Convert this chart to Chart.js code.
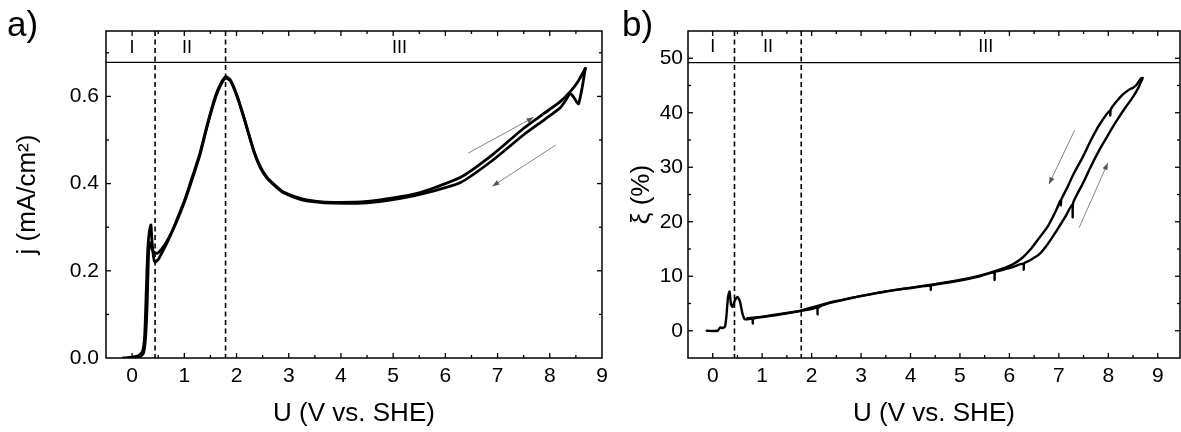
<!DOCTYPE html>
<html><head><meta charset="utf-8">
<script src="https://cdn.jsdelivr.net/npm/chart.js@4.4.0/dist/chart.umd.min.js"></script>
<style>
html,body{margin:0;padding:0;background:#fff;width:1181px;height:432px;overflow:hidden;}
#wa{position:absolute;left:0;top:0;width:620px;height:432px;}
#wb{position:absolute;left:620px;top:0;width:561px;height:432px;}
.panel{position:absolute;font-family:"Liberation Sans",Arial,sans-serif;font-size:35px;line-height:34px;color:#000;}
</style></head>
<body>
<div id="wa"><canvas id="ca"></canvas></div>
<div id="wb"><canvas id="cb"></canvas></div>
<div class="panel" style="left:7px;top:7px">a)</div>
<div class="panel" style="left:622px;top:7px">b)</div>
<script>
// ---------- DATA ----------
const uTickValues = [0,1,2,3,4,5,6,7,8,9];
const jTickValues = [0,0.2,0.4,0.6];
const xiTickValues = [0,10,20,30,40,50];
const regionLabels = ['I','II','III'];
const regionBounds = [0.44, 1.79];
const regionLabelUA = [0.0, 1.05, 5.12];
const regionLabelUB = [0.0, 1.12, 5.52];

// panel a: current density, forward (anodic) scan
const uFwdA = [-0.17,0.0,0.12,0.2,0.24,0.27,0.3,0.33,0.36,0.38,0.41,0.44,0.5,0.6,0.7,0.85,1.0,1.15,1.3,1.45,1.6,1.7,1.79,1.88,2.0,2.14,2.33,2.45,2.58,2.75,2.9,3.22,3.5,3.86,4.5,5.14,5.5,5.8,6.3,6.9,7.5,7.9,8.2,8.4,8.55,8.68];
const jFwdA = [0,0.002,0.005,0.015,0.05,0.15,0.25,0.29,0.305,0.27,0.232,0.22,0.226,0.248,0.272,0.315,0.36,0.414,0.47,0.54,0.602,0.63,0.645,0.638,0.605,0.553,0.476,0.44,0.415,0.395,0.381,0.366,0.36,0.357,0.359,0.37,0.379,0.391,0.415,0.466,0.527,0.562,0.588,0.612,0.636,0.664];
// panel a: backward scan
const uBwdA = [8.68,8.62,8.55,8.5,8.46,8.39,8.33,8.2,7.9,7.5,6.9,6.3,5.8,5.14,4.5,3.86,3.5,3.22,2.9,2.75,2.58,2.45,2.33,2.14,2.0,1.88,1.79,1.7,1.6,1.45,1.3,1.15,1.0,0.85,0.7,0.58,0.48,0.4,0.35,0.33,0.31,0.29,0.26,0.22,0.15,0.05];
const jBwdA = [0.664,0.62,0.583,0.59,0.598,0.607,0.596,0.574,0.547,0.512,0.453,0.403,0.384,0.366,0.356,0.355,0.358,0.364,0.379,0.393,0.413,0.438,0.474,0.551,0.603,0.636,0.642,0.627,0.598,0.537,0.466,0.41,0.357,0.312,0.275,0.252,0.24,0.245,0.262,0.265,0.22,0.13,0.05,0.012,0.003,0.001];

// panel b: xi, forward scan
const uFwdB = [-0.12,0.1,0.15,0.2,0.25,0.28,0.31,0.34,0.37,0.4,0.45,0.5,0.55,0.6,0.65,0.8,0.81,0.82,1.0,1.3,1.5,1.76,2.0,2.11,2.12,2.13,2.37,2.71,3.0,3.38,3.7,4.05,4.4,4.41,4.42,4.73,5.05,5.4,5.69,5.7,5.71,5.8,6.07,6.28,6.29,6.3,6.41,6.6,6.75,6.9,7.02,7.15,7.27,7.28,7.29,7.49,7.65,7.82,8.0,8.16,8.35,8.5,8.62,8.67];
const xiFwdB = [0,0,0.6,0.5,0.8,3.0,6.2,7.2,4.8,4.4,5.6,6.2,5.4,3.2,2.1,2.2,1.3,2.2,2.5,2.9,3.2,3.6,4.0,4.2,3.0,4.2,5.1,5.8,6.4,7.0,7.5,7.9,8.3,7.5,8.3,8.8,9.3,10.0,10.7,9.3,10.8,11.0,11.7,12.3,11.2,12.4,12.9,14.0,15.6,17.6,19.3,21.2,23.2,20.8,23.5,27.1,30.2,33.2,36.0,38.4,41.0,42.9,44.8,45.9];
// panel b: backward scan
const uBwdB = [8.67,8.7,8.65,8.57,8.5,8.45,8.4,8.3,8.16,8.05,8.04,8.03,7.82,7.65,7.49,7.3,7.15,7.05,7.04,7.03,6.95,6.78,6.6,6.45,6.25,6.07,5.8,5.4,5.05,4.73,4.05,3.38,2.71,2.37,1.76,1.3,1.0,0.7];
const xiBwdB = [45.9,46.4,46.2,45.1,44.6,44.4,44.1,43.4,42.0,40.6,39.5,40.4,37.8,35.0,32.0,28.8,25.9,24.1,23.0,23.9,22.2,19.2,17.0,15.2,13.3,12.2,11.2,10.1,9.4,8.9,7.95,7.05,5.85,5.2,3.65,3.0,2.6,2.3];

// scan-direction arrows [u0, v0, u1, v1]
const arrowsA = [[6.44,0.47,7.69,0.552],[8.11,0.488,6.90,0.394]];
const arrowsB = [[7.32,36.8,6.80,26.9],[7.41,18.9,7.99,30.8]];

// ---------- RENDER ----------
const FONT = '"Liberation Sans", Arial, sans-serif';
Chart.defaults.font.family = FONT;
Chart.defaults.color = '#000';

function pts(xs, ys){ return xs.map((x,i)=>({x:x, y:ys[i]})); }
function range(a,b,s){ const r=[]; for(let v=a; v<=b+1e-9; v+=s) r.push(+v.toFixed(6)); return r; }

const decoPlugin = {
  id:'deco',
  afterDatasetsDraw(chart, args, o){
    const {ctx, chartArea:a, scales:{x,y}} = chart;
    const L=(x0,y0,x1,y1)=>{ctx.beginPath();ctx.moveTo(x0,y0);ctx.lineTo(x1,y1);ctx.stroke();};
    ctx.save();
    ctx.strokeStyle='#000'; ctx.fillStyle='#000';
    ctx.lineWidth=1.2;
    const yb = y.getPixelForValue(o.band);
    L(a.left,yb,a.right,yb);
    ctx.setLineDash([5,3.5]); ctx.lineWidth=1.6;
    o.bounds.forEach(v=>{const px=x.getPixelForValue(v); L(px,a.top,px,a.bottom);});
    ctx.setLineDash([]);
    ctx.font='18px '+FONT; ctx.textAlign='center'; ctx.textBaseline='middle';
    o.labelU.forEach((v,i)=>ctx.fillText(o.labels[i], x.getPixelForValue(v), y.getPixelForValue(o.labelV)));
    ctx.strokeStyle='#777'; ctx.fillStyle='#555'; ctx.lineWidth=0.9;
    o.arrows.forEach(ar=>{
      const x0=x.getPixelForValue(ar[0]), y0=y.getPixelForValue(ar[1]);
      const x1=x.getPixelForValue(ar[2]), y1=y.getPixelForValue(ar[3]);
      L(x0,y0,x1,y1);
      const ang=Math.atan2(y1-y0,x1-x0), h=7, w=2.6;
      ctx.beginPath();
      ctx.moveTo(x1,y1);
      ctx.lineTo(x1-h*Math.cos(ang)+w*Math.sin(ang), y1-h*Math.sin(ang)-w*Math.cos(ang));
      ctx.lineTo(x1-h*Math.cos(ang)-w*Math.sin(ang), y1-h*Math.sin(ang)+w*Math.cos(ang));
      ctx.closePath(); ctx.fill();
    });
    ctx.strokeStyle='#000'; ctx.lineWidth=1.5;
    ctx.strokeRect(a.left,a.top,a.right-a.left,a.bottom-a.top);
    ctx.lineWidth=1.3;
    const xt=(vals,len)=>vals.forEach(v=>{const p=x.getPixelForValue(v); if(p<a.left+1||p>a.right-1) return; L(p,a.bottom,p,a.bottom-len); L(p,a.top,p,a.top+len);});
    const yt=(vals,len)=>vals.forEach(v=>{const p=y.getPixelForValue(v); if(p<a.top+1||p>a.bottom-1) return; L(a.left,p,a.left+len,p); L(a.right,p,a.right-len,p);});
    xt(o.xMajor,5); xt(o.xMinor,3);
    yt(o.yMajor,5); yt(o.yMinor,3);
    ctx.restore();
  }
};

function makeChart(id, cfg){
  return new Chart(document.getElementById(id), {
    type:'line',
    data:{datasets: cfg.series.map(s=>({
      data: s, borderColor:'#000', borderWidth: cfg.lw, pointRadius:0, tension:0.2,
      borderJoinStyle:'round', borderCapStyle:'round', fill:false
    }))},
    options:{
      responsive:true, maintainAspectRatio:false, animation:false, devicePixelRatio:1,
      parsing:false, normalized:true,
      layout:{padding:{top:31,right:cfg.padRight,left:0,bottom:0}},
      plugins:{legend:{display:false}, tooltip:{enabled:false}, deco: cfg.deco},
      scales:{
        x:{type:'linear', min:-0.5, max:cfg.xMax,
           afterFit:s=>{s.height=74;},
           afterBuildTicks:s=>{s.ticks=uTickValues.map(v=>({value:v}));},
           ticks:{font:{size:21}, color:'#000', padding:6, maxRotation:0, autoSkip:false, callback:v=>String(v)},
           grid:{display:false, drawTicks:false}, border:{display:false},
           title:{display:true, text:'U (V vs. SHE)', font:{size:26}, color:'#000', padding:{top:0,bottom:3}}},
        y:{type:'linear', min:cfg.yMin, max:cfg.yMax,
           afterFit:s=>{s.width=cfg.yWidth;},
           afterBuildTicks:s=>{s.ticks=cfg.yTicks.map(v=>({value:v}));},
           ticks:{font:{size:21}, color:'#000', padding:cfg.yPad, autoSkip:false, callback:cfg.yFmt},
           grid:{display:false, drawTicks:false}, border:{display:false},
           title:{display:true, text:cfg.yTitle, font:{size:26}, color:'#000', padding:{top:cfg.yTitlePad,bottom:0}}}
      }
    },
    plugins:[decoPlugin]
  });
}

makeChart('ca', {
  series:[pts(uFwdA,jFwdA), pts(uBwdA,jBwdA)], lw:2.8,
  padRight:18, xMax:9.0, yMin:0, yMax:0.75, yWidth:106, yPad:7, yTitlePad:12,
  yTicks:jTickValues, yFmt:v=>Number(v).toFixed(1), yTitle:'j (mA/cm²)',
  deco:{band:0.678, bounds:regionBounds, labels:regionLabels, labelU:regionLabelUA, labelV:0.712,
        arrows:arrowsA, xMajor:uTickValues, xMinor:range(0.5,8.5,1),
        yMajor:jTickValues, yMinor:[0.1,0.3,0.5,0.7]}
});
makeChart('cb', {
  series:[pts(uFwdB,xiFwdB), pts(uBwdB,xiBwdB)], lw:2.4,
  padRight:1, xMax:9.45, yMin:-5, yMax:55, yWidth:68, yPad:5, yTitlePad:6,
  yTicks:xiTickValues, yFmt:v=>String(v), yTitle:'ξ (%)',
  deco:{band:49.2, bounds:regionBounds, labels:regionLabels, labelU:regionLabelUB, labelV:52.0,
        arrows:arrowsB, xMajor:uTickValues, xMinor:range(0.5,9,1),
        yMajor:xiTickValues, yMinor:[-5,5,15,25,35,45,55]}
});
</script>
</body></html>
